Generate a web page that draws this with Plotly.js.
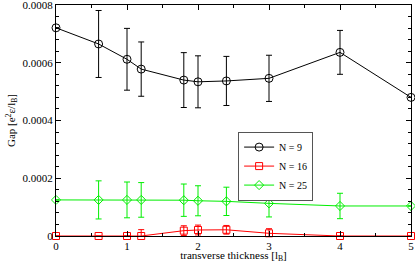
<!DOCTYPE html>
<html><head><meta charset="utf-8">
<script src="https://cdn.plot.ly/plotly-3.0.1.min.js"></script>
<style>html,body{margin:0;padding:0;background:#fff}#c{width:415px;height:263px}</style>
</head><body><div id="c"></div>
<script>
var xN9 = [0, 0.6, 1.0, 1.2, 1.8, 2.0, 2.4, 3.0, 4.0, 5.0];
var yN9 = [0.000721, 0.000665, 0.000612, 0.000578, 0.00054, 0.000534, 0.000537, 0.000546, 0.000636, 0.00048];
var eN9 = [0, 0.000116, 0.000107, 0.000094, 0.000095, 0.00009, 0.000085, 0.00008, 0.000076, 0];

var xN16 = [0, 0.6, 1.0, 1.2, 1.8, 2.0, 2.4, 3.0, 4.0, 5.0];
var yN16 = [0, 0, 0, 0, 0.0000185, 0.0000208, 0.0000215, 0.0000093, 0, 0];
var eN16 = [0, 0, 0, 0.000022, 0.000017, 0.000017, 0.000015, 0.000016, 0, 0];

var xN25 = [0, 0.6, 1.0, 1.2, 1.8, 2.0, 2.4, 3.0, 4.0, 5.0];
var yN25 = [0.000125, 0.000125, 0.000125, 0.000125, 0.000124, 0.000122, 0.00012, 0.000113, 0.000104, 0.000104];
var eN25 = [0, 0.000066, 0.000062, 0.00006, 0.000056, 0.000052, 0.000049, 0.000047, 0.000044, 0];

var names = ['N = 9', 'N = 16', 'N = 25'];
var xTicks = [0, 1, 2, 3, 4, 5];
var yTickVals = [0, 0.0002, 0.0004, 0.0006, 0.0008];
var yTickText = ['0', '0.0002', '0.0004', '0.0006', '0.0008'];

function tr(x, y, e, name, color, symbol, size) {
  return {
    x: x, y: y, name: name, type: 'scatter', mode: 'lines+markers',
    line: {color: color, width: 1},
    marker: {symbol: symbol, size: size, color: color, line: {color: color, width: 1}},
    error_y: {type: 'data', array: e, visible: true, color: color, thickness: 1, width: 3},
    cliponaxis: false
  };
}
var data = [
  tr(xN9, yN9, eN9, names[0], '#000000', 'circle-open', 8),
  tr(xN16, yN16, eN16, names[1], '#ff0000', 'square-open', 7),
  tr(xN25, yN25, eN25, names[2], '#00ee00', 'diamond-open', 7)
];
var font = {family: 'Liberation Serif, Times New Roman, serif', size: 11, color: '#000'};
var layout = {
  width: 415, height: 263,
  margin: {l: 56, r: 4, t: 5, b: 27},
  paper_bgcolor: '#fff', plot_bgcolor: '#fff',
  font: font,
  showlegend: true,
  legend: {x: 0.513, y: 0.452, xanchor: 'left', yanchor: 'top', bgcolor: '#fff',
           bordercolor: '#555', borderwidth: 1, font: {family: font.family, size: 10},
           tracegroupgap: 0, itemwidth: 30},
  xaxis: {
    range: [0, 5], tickvals: xTicks, ticks: 'inside', ticklen: 5, tickcolor: '#000',
    showline: true, linecolor: '#000', linewidth: 1, mirror: 'allticks', showgrid: false, zeroline: false,
    minor: {dtick: 0.5, ticks: 'inside', ticklen: 3, tickcolor: '#000', showgrid: false},
    title: {text: 'transverse thickness [l<sub>B</sub>]', font: font, standoff: 1},
    tickfont: font, ticklabeloverflow: 'allow', automargin: false
  },
  yaxis: {
    range: [0, 0.0008000001], tickvals: yTickVals, ticktext: yTickText, ticks: 'inside', ticklen: 5, tickcolor: '#000',
    showline: true, linecolor: '#000', linewidth: 1, mirror: 'allticks', showgrid: false, zeroline: false,
    minor: {dtick: 0.00004, ticks: 'inside', ticklen: 3, tickcolor: '#000', showgrid: false},
    title: {text: 'Gap [e<sup>2</sup>ε/l<sub>B</sub>]', font: font, standoff: 4},
    tickfont: font, ticklabeloverflow: 'allow', automargin: false
  }
};
Plotly.newPlot('c', data, layout, {staticPlot: true});
</script></body></html>
